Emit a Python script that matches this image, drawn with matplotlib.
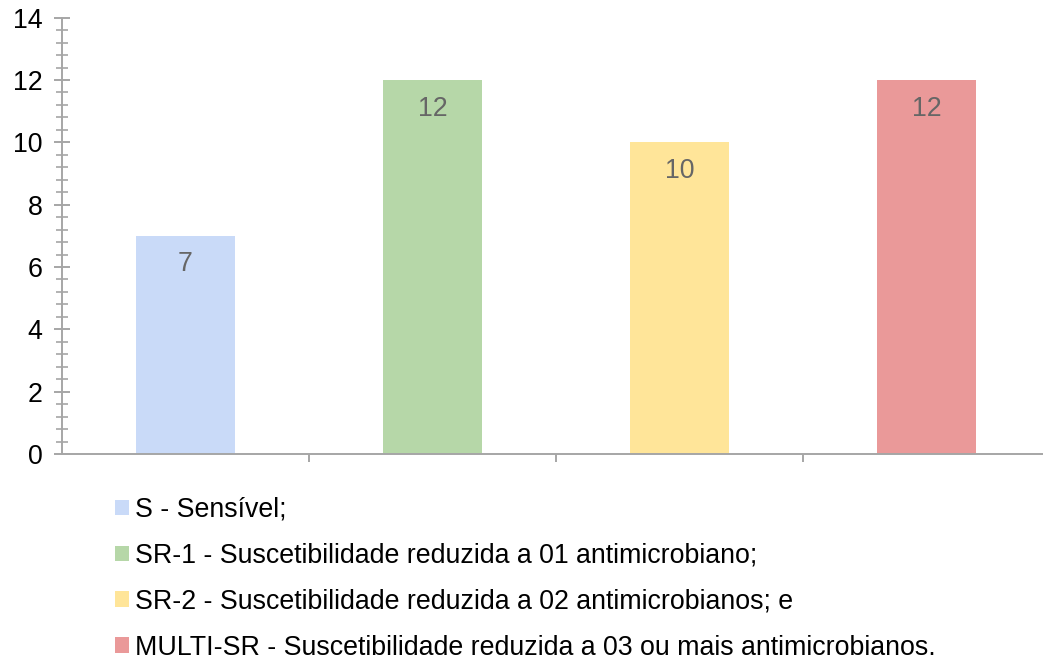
import matplotlib.pyplot as plt
from matplotlib.patches import Patch
from matplotlib.ticker import MultipleLocator, FixedLocator, NullFormatter

plt.rcParams["font.family"] = ["Liberation Sans", "DejaVu Sans"]

categorias = ["S", "SR-1", "SR-2", "MULTI-SR"]
valores = [7, 12, 10, 12]
cores = ["#C9DAF8", "#B6D7A8", "#FFE599", "#EA9999"]
legendas = [
    "S - Sensível;",
    "SR-1 - Suscetibilidade reduzida a 01 antimicrobiano;",
    "SR-2 - Suscetibilidade reduzida a 02 antimicrobianos; e",
    "MULTI-SR - Suscetibilidade reduzida a 03 ou mais antimicrobianos.",
]

FS = 19.3
W, H = 1043, 662
fig = plt.figure(figsize=(W / 100, H / 100), dpi=100)
# eixo se estende um pouco além da borda direita
ax = fig.add_axes([62 / W, (H - 454) / H, 988 / W, (454 - 17.7) / H])

x = range(len(categorias))
barras = ax.bar(x, valores, width=0.4, color=cores, zorder=2)

for b, v in zip(barras, valores):
    ax.annotate(str(v), (b.get_x() + b.get_width() / 2, v),
                xytext=(0, -20.5), textcoords="offset points",
                ha="center", va="center", fontsize=FS, color="#666666")

ax.set_xlim(-0.5, len(categorias) - 0.5)
ax.set_ylim(0, 14)

cinza = "#A6A6A6"
for lado in ["top", "right"]:
    ax.spines[lado].set_visible(False)
for lado in ["left", "bottom"]:
    ax.spines[lado].set_color(cinza)
    ax.spines[lado].set_linewidth(1.4)

ax.yaxis.set_major_locator(MultipleLocator(2))
ax.yaxis.set_minor_locator(MultipleLocator(0.4))
ax.tick_params(axis="y", which="major", direction="inout", length=12,
               width=1.4, color=cinza, labelsize=FS, pad=8)
ax.tick_params(axis="y", which="minor", direction="inout", length=9,
               width=1.2, color=cinza)

ax.xaxis.set_major_locator(FixedLocator([0.5, 1.5, 2.5]))
ax.xaxis.set_major_formatter(NullFormatter())
ax.tick_params(axis="x", which="major", direction="out", length=6,
               width=1.4, color=cinza)

handles = [Patch(facecolor=c, edgecolor="none") for c in cores]
fig.legend(handles, legendas, loc="upper left",
           bbox_to_anchor=(115 / W, (H - 497) / H), frameon=False,
           fontsize=FS, handlelength=0.52, handleheight=0.52,
           handletextpad=0.22, labelspacing=0.74, borderaxespad=0,
           borderpad=0)

fig.savefig("out.png", dpi=100)
